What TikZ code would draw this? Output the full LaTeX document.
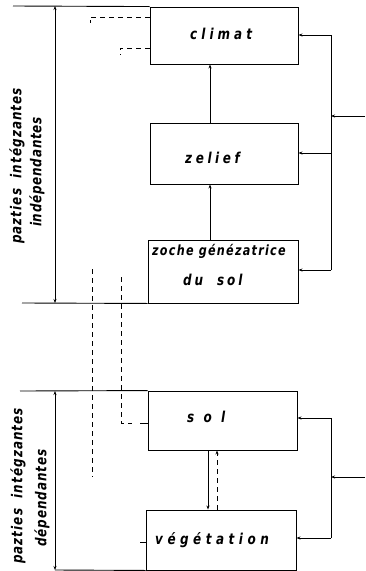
\documentclass[tikz,border=0pt]{standalone}
\usepackage{fontspec}
\setmainfont{DejaVu Sans}
\newfontfamily\hand[FakeStretch=0.8]{DejaVu Sans}
\usetikzlibrary{arrows.meta}
\newcommand{\hw}[2]{\hand\bfseries\itshape\addfontfeatures{LetterSpace=#2}\fontsize{#1}{#1}\selectfont}
\tikzset{
  box/.style={draw, line width=0.9pt, inner sep=0pt},
  ln/.style={line width=0.9pt},
  dsh/.style={line width=0.9pt, dash pattern=on 5pt off 4pt},
  arr/.style={line width=0.9pt, -{Stealth[length=4pt,width=3pt]}},
  arrr/.style={line width=0.9pt, {Stealth[length=4pt,width=3pt]}-{Stealth[length=4pt,width=3pt]}},
  txt/.style={inner sep=0pt, anchor=base west},
  side/.style={inner sep=0pt, rotate=90}
}
\begin{document}
\begin{tikzpicture}[x=1pt,y=-1pt]
\useasboundingbox (0,0) rectangle (365,571);
% boxes
\node[box, minimum width=148pt, minimum height=57pt] (climat) at (224,35.5) {};
\node[box, minimum width=148pt, minimum height=61pt] (relief) at (224,153.5) {};
\node[box, minimum width=150pt, minimum height=63pt] (roche) at (223,271.5) {};
\node[box, minimum width=149pt, minimum height=59pt] (sol) at (222.5,420.5) {};
\node[box, minimum width=150pt, minimum height=60pt] (veg) at (221,540) {};
% texts
\node[txt, font=\hw{15}{27}] (tclimat) at (190,39) {climat};
\node[txt, font=\hw{15}{24}] (trelief) at (185,163) {zelief};
\node[txt, font=\hw{14}{9}] (troche1) at (152,255) {zoche génézatrice};
\node[txt, font=\hw{15}{19}] (troche2) at (183,285) {du\ \ sol};
\node[txt, font=\hw{15}{62}] (tsol) at (187,422) {sol};
\node[txt, font=\hw{15}{30}] (tveg) at (155,544) {végétation};
% side labels
\node[side, font=\hw{15}{7}] (lab1a) at (17,166) {pazties\ \ intégzantes};
\node[side, font=\hw{15}{5}] (lab1b) at (37,172) {indépendantes};
\node[side, font=\hw{15}{7}] (lab2a) at (18,486) {pazties\ \ intégzantes};
\node[side, font=\hw{15}{6}] (lab2b) at (42,498) {dépendantes};
% frame lines upper
\coordinate (tl) at (13,6);
\coordinate (bl) at (22,303);
\draw[ln] (tl) -- (climat.north west);
\draw[ln] (bl) -- (roche.south west);
\coordinate (a1) at (55,6);
\coordinate (a2) at (55,303);
\draw[arrr] (a1) -- (a2);
% frame lines lower
\coordinate (tl2) at (20,391);
\coordinate (bl2) at (55,570);
\draw[ln] (tl2) -- (sol.north west);
\draw[ln] (bl2) -- (veg.south west);
\coordinate (b1) at (55,391);
\draw[arrr] (b1) -- (bl2);
% vertical arrows between upper boxes
\coordinate (cx) at (210,0);
\draw[arr] (relief.north -| cx) -- (climat.south -| cx);
\draw[arr] (roche.north -| cx) -- (relief.south -| cx);
% right feedback upper
\coordinate (r1) at (331,35);
\coordinate (r2) at (331,153);
\coordinate (r3) at (331,270);
\coordinate (rin) at (365,116);
\draw[ln] (r1) -- (r3);
\draw[arr] (r1) -- (climat.east |- r1);
\draw[arr] (r2) -- (relief.east |- r2);
\draw[arr] (r3) -- (roche.east |- r3);
\draw[arr] (rin) -- (r1 |- rin);
% right feedback lower
\coordinate (s1) at (331,418);
\coordinate (s2) at (331,538);
\coordinate (sin) at (365,477);
\draw[ln] (s1) -- (s2);
\draw[arr] (s1) -- (sol.east |- s1);
\draw[arr] (s2) -- (veg.east |- s2);
\draw[arr] (sin) -- (s1 |- sin);
% sol - vegetation
\coordinate (sx) at (208,0);
\coordinate (dx) at (217,0);
\draw[arr] (sol.south -| sx) -- (veg.north -| sx);
\draw[arr, dash pattern=on 5pt off 4pt] (veg.north -| dx) -- (sol.south -| dx);
% dashed lines
\coordinate (d1a) at (90,17);
\coordinate (d1b) at (90,23);
\draw[dsh] (climat.west |- d1a) -- (d1a) -- (d1b);
\coordinate (d2a) at (120,48);
\coordinate (d2b) at (120,55);
\draw[dsh] (climat.west |- d2a) -- (d2a) -- (d2b);
\coordinate (e1) at (92,269);
\coordinate (e2) at (92,477);
\draw[dsh] (e1) -- (e2);
\coordinate (f1) at (121,277);
\coordinate (f2) at (121,423);
\coordinate (f3) at (132,423);
\coordinate (f4) at (140,423);
\draw[dsh] (f1) -- (f2) -- (f3);
\draw[ln] (f4) -- (sol.west |- f4);
\coordinate (g1) at (140,542);
\draw[ln] (g1) -- (veg.west |- g1);
\end{tikzpicture}
\end{document}
